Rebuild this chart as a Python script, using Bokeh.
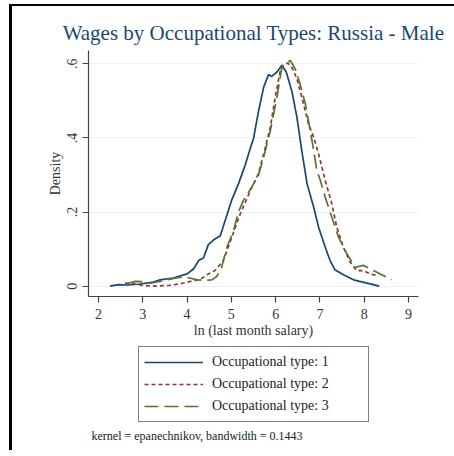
from bokeh.plotting import figure
from bokeh.layouts import column
from bokeh.models import Range1d, FixedTicker, Legend, LegendItem, Label
from bokeh.embed import file_html
from bokeh.resources import INLINE

# ---- data ----
x_ticks = [2, 3, 4, 5, 6, 7, 8, 9]
y_ticks = [0, 0.2, 0.4, 0.6]
y_tick_labels = ["0", ".2", ".4", ".6"]

labels = ["Occupational type: 1", "Occupational type: 2", "Occupational type: 3"]

x1 = [2.26, 2.45, 2.64, 2.9, 3.24, 3.39, 3.69, 4.00, 4.15, 4.26, 4.37, 4.48, 4.60, 4.75,
      4.86, 5.01, 5.16, 5.31, 5.46, 5.50, 5.61, 5.73, 5.84, 5.91, 6.03, 6.14, 6.24, 6.37,
      6.48, 6.59, 6.71, 6.86, 6.97, 7.12, 7.23, 7.34, 7.53, 7.76, 8.06, 8.34]
y1 = [0.0, 0.004, 0.003, 0.005, 0.011, 0.017, 0.022, 0.033, 0.047, 0.069, 0.076, 0.112,
      0.125, 0.136, 0.177, 0.233, 0.276, 0.326, 0.384, 0.398, 0.470, 0.537, 0.571, 0.566,
      0.578, 0.596, 0.578, 0.524, 0.456, 0.366, 0.276, 0.213, 0.159, 0.105, 0.069, 0.044,
      0.031, 0.017, 0.008, 0.0]

x2 = [2.60, 2.75, 3.0, 3.3, 3.6, 3.84, 4.15, 4.30, 4.45, 4.63, 4.82, 5.01, 5.20, 5.43,
      5.61, 5.73, 5.88, 5.99, 6.10, 6.18, 6.28, 6.37, 6.48, 6.63, 6.74, 6.86, 6.97, 7.12,
      7.27, 7.38, 7.53, 7.68, 7.83, 7.98, 8.13, 8.29]
y2 = [0.008, 0.007, 0.002, 0.0, 0.002, 0.006, 0.015, 0.018, 0.031, 0.042, 0.069, 0.132,
      0.195, 0.258, 0.303, 0.357, 0.429, 0.51, 0.578, 0.598, 0.602, 0.59, 0.56, 0.492,
      0.438, 0.402, 0.357, 0.285, 0.222, 0.159, 0.105, 0.065, 0.042, 0.042, 0.033, 0.029]

x3 = [2.68, 2.83, 3.0, 3.17, 3.35, 3.54, 3.84, 4.07, 4.22, 4.40, 4.56, 4.67, 4.78, 4.90,
      5.05, 5.16, 5.27, 5.46, 5.61, 5.73, 5.88, 6.03, 6.14, 6.21, 6.33, 6.44, 6.55, 6.67,
      6.74, 6.86, 6.93, 7.01, 7.12, 7.27, 7.42, 7.61, 7.80, 7.98, 8.13, 8.36, 8.62]
y3 = [0.008, 0.013, 0.012, 0.008, 0.012, 0.017, 0.024, 0.022, 0.017, 0.016, 0.017, 0.026,
      0.051, 0.105, 0.150, 0.200, 0.231, 0.267, 0.299, 0.348, 0.42, 0.51, 0.591, 0.60,
      0.609, 0.587, 0.546, 0.492, 0.447, 0.366, 0.312, 0.285, 0.24, 0.186, 0.132, 0.087,
      0.051, 0.056, 0.047, 0.033, 0.017]

title_text = "Wages by Occupational Types: Russia - Male"
note_text = "kernel = epanechnikov, bandwidth = 0.1443"

SERIF = "Liberation Serif"
COLORS = ["#1a476f", "#90353b", "#55752f"]
DASHES = ["solid", "4 3", "14 6"]
SERIES = [(x1, y1), (x2, y2), (x3, y3)]

# ---------------- main plot ----------------
p = figure(width=442, height=338, output_backend="svg", toolbar_location=None,
           x_range=Range1d(1.774, 9.226), y_range=Range1d(-0.028, 0.636),
           min_border_left=76, min_border_right=36, min_border_top=44,
           min_border_bottom=48)
p.outline_line_color = None
p.background_fill_color = "white"
p.border_fill_color = "white"

p.title.text = title_text
p.title.align = "center"
p.title.text_font = SERIF
p.title.text_font_size = "21px"
p.title.text_font_style = "normal"
p.title.text_color = "#1a476f"
p.title.standoff = 12

for ax in (p.xaxis[0], p.yaxis[0]):
    ax.axis_line_color = "#444444"
    ax.axis_line_width = 1.2
    ax.major_tick_line_color = "#444444"
    ax.major_tick_line_width = 1.2
    ax.major_tick_out = 6
    ax.major_tick_in = 0
    ax.minor_tick_line_color = None
    ax.major_label_text_font = SERIF
    ax.major_label_text_font_size = "14px"
    ax.major_label_text_color = "#333333"
    ax.axis_label_text_font = SERIF
    ax.axis_label_text_font_size = "14px"
    ax.axis_label_text_font_style = "normal"
    ax.axis_label_text_color = "#333333"

p.xaxis.ticker = FixedTicker(ticks=x_ticks)
p.yaxis.ticker = FixedTicker(ticks=y_ticks)
p.yaxis.major_label_overrides = {t: l for t, l in zip(y_ticks, y_tick_labels)}
p.yaxis.major_label_orientation = "vertical"
p.xaxis.axis_label = "ln (last month salary)"
p.yaxis.axis_label = "Density"
p.xaxis.major_label_standoff = 6
p.yaxis.major_label_standoff = 5
p.xaxis.axis_label_standoff = 1
p.yaxis.axis_label_standoff = 2

p.xgrid.visible = False
p.ygrid.ticker = FixedTicker(ticks=y_ticks)
p.ygrid.grid_line_color = "#eaf2f3"
p.ygrid.grid_line_width = 1

for (xs, ys), c, d in zip(SERIES, COLORS, DASHES):
    p.line(xs, ys, line_color=c, line_width=1.7, line_dash=d)

# ---------------- legend + note strip (frame aligned with main plot) ----------------
q = figure(width=442, height=106, output_backend="svg", toolbar_location=None,
           x_range=Range1d(0, 1), y_range=Range1d(0, 1),
           x_axis_location=None, y_axis_location=None,
           min_border_left=0, min_border_right=0, min_border_top=0, min_border_bottom=0)
q.outline_line_color = None
q.xgrid.visible = False
q.ygrid.visible = False
q.background_fill_color = "white"
q.border_fill_color = "white"

items = []
for (xs, ys), lab, c, d in zip(SERIES, labels, COLORS, DASHES):
    # same series, outside this strip's visible range: only feeds the legend glyphs
    r = q.line(xs, ys, line_color=c, line_width=1.7, line_dash=d)
    items.append(LegendItem(label=lab, renderers=[r]))

legend = Legend(items=items, location=(50, 28), orientation="vertical")
legend.border_line_color = "black"
legend.border_line_width = 1
legend.background_fill_color = "white"
legend.background_fill_alpha = 1
legend.label_text_font = SERIF
legend.label_text_font_size = "14px"
legend.label_text_color = "#222222"
legend.glyph_width = 59
legend.glyph_height = 20
legend.label_height = 20
legend.label_width = 151
legend.label_standoff = 9
legend.padding = 5
legend.spacing = 2
legend.margin = 0
q.add_layout(legend, "center")

q.add_layout(Label(x=3, y=15, x_units="screen", y_units="screen", text=note_text,
                   text_font=SERIF, text_font_size="12px", text_color="#222222",
                   text_baseline="middle"))

layout = column(p, q, spacing=0)
layout.styles = {"margin-left": "9px", "margin-top": "4px",
                 "border-left": "3px solid black", "border-top": "2px solid black"}

open("out.html", "w").write(file_html(layout, INLINE))
